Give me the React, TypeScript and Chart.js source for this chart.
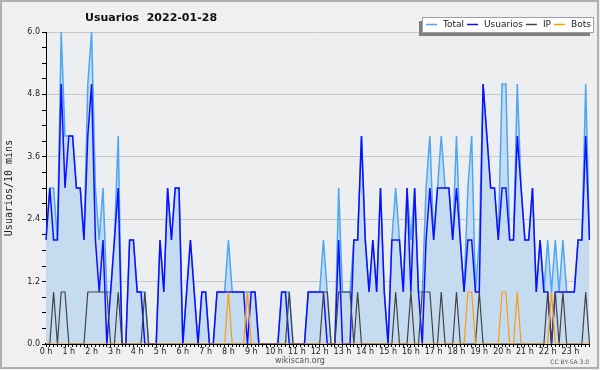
import { useEffect, useRef } from 'react';
import { Chart, registerables } from 'chart.js';

Chart.register(...registerables);

const hourLabels = ['0 h', '1 h', '2 h', '3 h', '4 h', '5 h', '6 h', '7 h', '8 h', '9 h', '10 h', '11 h',
  '12 h', '13 h', '14 h', '15 h', '16 h', '17 h', '18 h', '19 h', '20 h', '21 h', '22 h', '23 h'];

// one value per 10 minutes (144 slots)
const totalValues = [
  2, 3, 3, 2, 6, 4, 4, 4, 3, 3, 2, 5, 6, 3, 2, 3, 1, 1, 2, 4, 0, 0, 2, 2,
  1, 1, 1, 0, 0, 0, 2, 1, 3, 2, 3, 3, 0, 1, 2, 1, 0, 1, 1, 0, 0, 1, 1, 1,
  2, 1, 1, 1, 1, 1, 1, 1, 0, 0, 0, 0, 0, 0, 1, 1, 1, 0, 0, 0, 0, 1, 1, 1,
  1, 2, 1, 0, 0, 3, 1, 1, 1, 2, 2, 4, 2, 1, 2, 1, 3, 1, 0, 2, 3, 2, 1, 3,
  2, 3, 1, 1, 3, 4, 2, 3, 4, 3, 3, 2, 4, 2, 1, 3, 4, 1, 2, 5, 4, 3, 3, 2,
  5, 5, 2, 2, 5, 3, 2, 2, 3, 1, 2, 1, 2, 1, 2, 1, 2, 1, 1, 1, 2, 2, 5, 2,
];
const usuariosValues = [
  2, 3, 2, 2, 5, 3, 4, 4, 3, 3, 2, 4, 5, 2, 1, 2, 0, 1, 2, 3, 0, 0, 2, 2,
  1, 1, 0, 0, 0, 0, 2, 1, 3, 2, 3, 3, 0, 1, 2, 1, 0, 1, 1, 0, 0, 1, 1, 1,
  1, 1, 1, 1, 1, 0, 1, 1, 0, 0, 0, 0, 0, 0, 1, 1, 0, 0, 0, 0, 0, 1, 1, 1,
  1, 1, 0, 0, 0, 2, 0, 0, 0, 2, 2, 4, 2, 1, 2, 1, 3, 1, 0, 2, 2, 2, 1, 3,
  1, 3, 1, 0, 2, 3, 2, 3, 3, 3, 3, 2, 3, 2, 1, 2, 2, 1, 1, 5, 4, 3, 3, 2,
  3, 3, 2, 2, 4, 3, 2, 2, 3, 1, 2, 1, 1, 0, 1, 1, 1, 1, 1, 1, 2, 2, 4, 2,
];
const ipValues = [
  0, 0, 1, 0, 1, 1, 0, 0, 0, 0, 0, 1, 1, 1, 1, 1, 1, 0, 0, 1, 0, 0, 0, 0,
  0, 0, 1, 0, 0, 0, 0, 0, 0, 0, 0, 0, 0, 0, 0, 0, 0, 0, 0, 0, 0, 0, 0, 0,
  0, 0, 0, 0, 0, 0, 0, 0, 0, 0, 0, 0, 0, 0, 0, 0, 1, 0, 0, 0, 0, 0, 0, 0,
  0, 1, 1, 0, 0, 1, 1, 1, 1, 0, 1, 0, 0, 0, 0, 0, 0, 0, 0, 0, 1, 0, 0, 0,
  1, 0, 0, 1, 1, 1, 0, 0, 1, 0, 0, 0, 1, 0, 0, 0, 0, 0, 1, 0, 0, 0, 0, 0,
  0, 0, 0, 0, 0, 0, 0, 0, 0, 0, 0, 0, 1, 0, 1, 0, 1, 0, 0, 0, 0, 0, 1, 0,
];
const botsValues = [
  0, 0, 0, 0, 0, 0, 0, 0, 0, 0, 0, 0, 0, 0, 0, 0, 0, 0, 0, 0, 0, 0, 0, 0,
  0, 0, 0, 0, 0, 0, 0, 0, 0, 0, 0, 0, 0, 0, 0, 0, 0, 0, 0, 0, 0, 0, 0, 0,
  1, 0, 0, 0, 0, 1, 0, 0, 0, 0, 0, 0, 0, 0, 0, 0, 0, 0, 0, 0, 0, 0, 0, 0,
  0, 0, 0, 0, 0, 0, 0, 0, 0, 0, 0, 0, 0, 0, 0, 0, 0, 0, 0, 0, 0, 0, 0, 0,
  0, 0, 0, 0, 0, 0, 0, 0, 0, 0, 0, 0, 0, 0, 0, 1, 1, 0, 0, 0, 0, 0, 0, 0,
  1, 1, 0, 0, 1, 0, 0, 0, 0, 0, 0, 0, 0, 1, 0, 0, 0, 0, 0, 0, 0, 0, 0, 0,
];

const yMajorTicks = [0, 1.2, 2.4, 3.6, 4.8, 6.0];
const seriesNames = ['Total', 'Usuarios', 'IP', 'Bots'];
const seriesColors = ['#4ba6f3', '#0f0fff', '#444444', '#ff9a10'];
const titleText = 'Usuarios  2022-01-28';
const yTitleText = 'Usuarios/10 mins';
const footerText = 'wikiscan.org';
const licenseText = 'CC BY-SA 3.0';

const slots = hourLabels.flatMap((h) => [h, '', '', '', '', '']);
const yAllTicks: number[] = [];
for (let k = 0; k < yMajorTicks.length - 1; k++) {
  const a = yMajorTicks[k];
  const step = (yMajorTicks[k + 1] - a) / 4;
  for (let j = 0; j < 4; j++) yAllTicks.push(a + step * j);
}
yAllTicks.push(yMajorTicks[yMajorTicks.length - 1]);
const isMajor = (v: number) => yMajorTicks.some((m) => Math.abs(m - v) < 1e-6);

const decor = {
  id: 'decor',
  beforeDraw(chart: any) {
    const { ctx, chartArea } = chart;
    ctx.save();
    ctx.fillStyle = '#f0f0f0';
    ctx.fillRect(0, 0, chart.width, chart.height);
    ctx.fillStyle = '#edeef0';
    ctx.fillRect(chartArea.left, chartArea.top, chartArea.right - chartArea.left, chartArea.bottom - chartArea.top);
    ctx.strokeStyle = '#b0b0b0';
    ctx.lineWidth = 2;
    ctx.strokeRect(1, 1, chart.width - 3, chart.height - 3);
    ctx.restore();
  },
  afterDraw(chart: any) {
    const { ctx } = chart;
    ctx.save();
    // title
    ctx.fillStyle = '#111';
    ctx.font = 'bold 11px "DejaVu Sans"';
    ctx.textAlign = 'left';
    ctx.textBaseline = 'alphabetic';
    ctx.fillText(titleText, 85, 21);
    // legend
    ctx.fillStyle = '#7f7f7f';
    ctx.fillRect(419, 21, 171, 15);
    ctx.fillStyle = '#ffffff';
    ctx.fillRect(422, 17, 171, 15);
    ctx.strokeStyle = '#a0a0a0';
    ctx.lineWidth = 1;
    ctx.strokeRect(422.5, 17.5, 171, 15);
    ctx.font = '9px "DejaVu Sans"';
    ctx.textBaseline = 'middle';
    let x = 426;
    const ly = 24.5;
    seriesNames.forEach((name, i) => {
      ctx.strokeStyle = seriesColors[i];
      ctx.lineWidth = 1.5;
      ctx.beginPath();
      ctx.moveTo(x, ly);
      ctx.lineTo(x + 11, ly);
      ctx.stroke();
      x += 17;
      ctx.fillStyle = '#222';
      ctx.fillText(name, x, ly + 0.5);
      x += ctx.measureText(name).width + 3;
    });
    // footer
    ctx.fillStyle = '#555';
    ctx.font = '8px "DejaVu Sans"';
    ctx.textAlign = 'center';
    ctx.textBaseline = 'alphabetic';
    ctx.fillText(footerText, 300, 363);
    ctx.font = '6px "DejaVu Sans"';
    ctx.textAlign = 'right';
    ctx.fillText(licenseText, 589, 364);
    ctx.restore();
  },
};

export default function App() {
  const ref = useRef<HTMLCanvasElement>(null);
  useEffect(() => {
    document.body.style.margin = '0';
    const chart = new Chart(ref.current as HTMLCanvasElement, {
      type: 'line',
      data: {
        labels: slots,
        datasets: [
          { label: seriesNames[0], data: totalValues, borderColor: seriesColors[0], backgroundColor: '#c5dcf0', fill: 'origin', borderWidth: 1.5, order: 4 },
          { label: seriesNames[1], data: usuariosValues, borderColor: seriesColors[1], borderWidth: 1.5, fill: false, order: 3 },
          { label: seriesNames[2], data: ipValues, borderColor: seriesColors[2], borderWidth: 1.2, fill: false, order: 2 },
          { label: seriesNames[3], data: botsValues, borderColor: seriesColors[3], borderWidth: 1.2, fill: false, order: 1 },
        ],
      },
      options: {
        responsive: false,
        animation: false,
        layout: { padding: { left: 0, top: 32, right: 10.5, bottom: 0 } },
        elements: { point: { radius: 0 }, line: { tension: 0 } },
        plugins: { legend: { display: false }, title: { display: false }, tooltip: { enabled: false } },
        scales: {
          x: {
            type: 'category',
            offset: false,
            grid: { display: true, drawOnChartArea: false, drawTicks: true, tickLength: 3, tickColor: '#000', lineWidth: 1 },
            border: { display: true, color: '#000', width: 2 },
            ticks: { autoSkip: false, maxRotation: 0, minRotation: 0, padding: 0, color: '#222', font: { family: 'DejaVu Sans', size: 8 } },
            afterFit: (s: any) => { s.height = 26; },
          },
          y: {
            min: 0,
            max: 6,
            afterBuildTicks: (s: any) => { s.ticks = yAllTicks.map((v) => ({ value: v })); },
            ticks: {
              callback: (v: any) => (isMajor(Number(v)) ? Number(v).toFixed(1) : ''),
              padding: 2,
              color: '#222',
              font: { family: 'DejaVu Sans', size: 8 },
            },
            grid: {
              color: (c: any) => (c.tick && isMajor(c.tick.value) ? '#c8c8c8' : 'rgba(0,0,0,0)'),
              tickColor: '#000',
              tickLength: 4,
              lineWidth: 1,
            },
            border: { display: true, color: '#000', width: 1 },
            title: { display: true, text: yTitleText, color: '#222', font: { family: 'DejaVu Sans Mono', size: 10 }, padding: { top: 3, bottom: 0 } },
            afterFit: (s: any) => { s.width = 46; },
          },
        },
      },
      plugins: [decor],
    });
    return () => chart.destroy();
  }, []);
  return (
    <div style={{ position: 'fixed', left: 0, top: 0, width: 600, height: 370 }}>
      <canvas ref={ref} width={600} height={370} style={{ display: 'block' }} />
    </div>
  );
}
